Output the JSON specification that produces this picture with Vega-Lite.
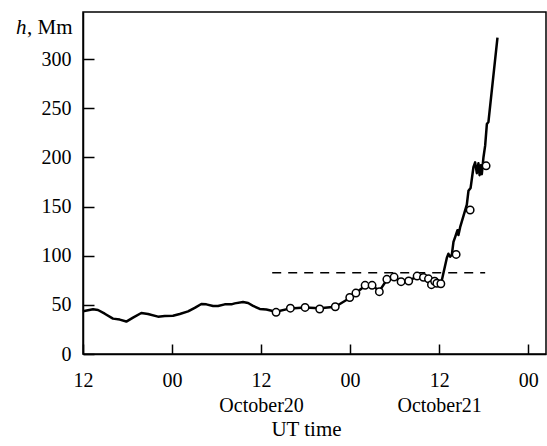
{
  "$schema": "https://vega.github.io/schema/vega-lite/v6.json",
  "width": 463,
  "height": 342,
  "autosize": {"type": "none"},
  "padding": {"left": 83, "top": 12, "right": 1, "bottom": 92},
  "background": "white",
  "config": {
    "view": {"stroke": "black", "strokeWidth": 1.5},
    "axis": {
      "grid": false,
      "domainColor": "black",
      "domainWidth": 1.5,
      "tickColor": "black",
      "tickWidth": 1.5,
      "labelFont": "Liberation Serif",
      "labelFontSize": 20,
      "labelColor": "black",
      "titleFont": "Liberation Serif",
      "titleFontSize": 21,
      "titleFontWeight": "normal",
      "titleColor": "black",
      "labelFlush": false,
      "labelOverlap": false,
      "labelBound": false
    }
  },
  "datasets": {
    "curve": [
      {"t": 0, "h": 43.5}, {"t": 1.35, "h": 45.5}, {"t": 2.02, "h": 44.8}, {"t": 2.93, "h": 41},
      {"t": 4.04, "h": 36}, {"t": 4.95, "h": 35}, {"t": 5.84, "h": 33}, {"t": 6.74, "h": 37},
      {"t": 7.86, "h": 41.7}, {"t": 8.76, "h": 40.7}, {"t": 10.11, "h": 38}, {"t": 11.02, "h": 38.7},
      {"t": 12.13, "h": 39}, {"t": 13.04, "h": 40.7}, {"t": 14.16, "h": 43.4}, {"t": 15.06, "h": 47},
      {"t": 15.95, "h": 50.9}, {"t": 16.62, "h": 50.5}, {"t": 17.53, "h": 48.8}, {"t": 18.2, "h": 48.8},
      {"t": 19.1, "h": 50.5}, {"t": 20.0, "h": 50.5}, {"t": 20.45, "h": 51.5}, {"t": 21.57, "h": 52.9},
      {"t": 22.25, "h": 51.9}, {"t": 22.92, "h": 49}, {"t": 23.82, "h": 45.8}, {"t": 24.71, "h": 45.3},
      {"t": 26.0, "h": 43}, {"t": 27.95, "h": 46.4}, {"t": 29.93, "h": 47.2}, {"t": 31.9, "h": 46.5},
      {"t": 34.0, "h": 48.1}, {"t": 35.95, "h": 57}, {"t": 36.78, "h": 62}, {"t": 38.02, "h": 69.5},
      {"t": 38.96, "h": 70}, {"t": 39.94, "h": 64}, {"t": 40.95, "h": 75.5}, {"t": 41.93, "h": 78},
      {"t": 42.87, "h": 74}, {"t": 43.9, "h": 74.5}, {"t": 45.03, "h": 79}, {"t": 45.88, "h": 78},
      {"t": 46.56, "h": 77}, {"t": 46.96, "h": 72}, {"t": 47.39, "h": 74}, {"t": 47.69, "h": 72},
      {"t": 48.3, "h": 73}, {"t": 49.04, "h": 98}, {"t": 49.25, "h": 102}, {"t": 49.48, "h": 99},
      {"t": 49.71, "h": 101}, {"t": 49.93, "h": 114}, {"t": 50.2, "h": 120}, {"t": 50.47, "h": 126},
      {"t": 50.6, "h": 121}, {"t": 50.83, "h": 129}, {"t": 51.3, "h": 141}, {"t": 51.73, "h": 152},
      {"t": 51.95, "h": 166}, {"t": 52.24, "h": 169}, {"t": 52.62, "h": 190}, {"t": 52.85, "h": 195},
      {"t": 53.08, "h": 184}, {"t": 53.29, "h": 194}, {"t": 53.45, "h": 182}, {"t": 53.62, "h": 192},
      {"t": 53.75, "h": 183}, {"t": 53.97, "h": 200}, {"t": 54.2, "h": 212}, {"t": 54.43, "h": 234},
      {"t": 54.64, "h": 236}, {"t": 55.86, "h": 322}
    ],
    "obs": [
      {"t": 26.02, "h": 42.4}, {"t": 27.95, "h": 46.6}, {"t": 29.93, "h": 47.4}, {"t": 31.9, "h": 45.8},
      {"t": 34.0, "h": 48.1}, {"t": 35.95, "h": 57.5}, {"t": 36.78, "h": 62}, {"t": 38.02, "h": 69.9},
      {"t": 38.96, "h": 69.9}, {"t": 39.94, "h": 63.4}, {"t": 40.95, "h": 76}, {"t": 41.93, "h": 78.3},
      {"t": 42.87, "h": 73.6}, {"t": 43.9, "h": 74.3}, {"t": 45.03, "h": 79.3}, {"t": 45.88, "h": 78},
      {"t": 46.56, "h": 76.5}, {"t": 46.96, "h": 70.5}, {"t": 47.39, "h": 74}, {"t": 47.69, "h": 72},
      {"t": 48.23, "h": 71.5}, {"t": 50.29, "h": 101.3}, {"t": 52.18, "h": 146.5}, {"t": 54.33, "h": 191.5}
    ],
    "ref": [{"t1": 25.5, "t2": 54.2, "h": 82.7}]
  },
  "resolve": {"axis": {"x": "independent", "y": "independent"}},
  "layer": [
    {
      "data": {"name": "ref"},
      "mark": {"type": "rule", "color": "black", "strokeWidth": 1.5, "strokeDash": [9, 7]},
      "encoding": {
        "x": {"field": "t1", "type": "quantitative", "axis": null},
        "x2": {"field": "t2"},
        "y": {"field": "h", "type": "quantitative", "axis": null}
      }
    },
    {
      "data": {"name": "curve"},
      "mark": {"type": "line", "color": "black", "strokeWidth": 2.5, "strokeJoin": "round"},
      "encoding": {
        "x": {
          "field": "t", "type": "quantitative",
          "scale": {"domain": [0, 62.4], "nice": false, "zero": false},
          "axis": {
            "orient": "bottom",
            "values": [0, 12, 24, 36, 48, 60],
            "labelExpr": "datum.value == 24 ? ['12', 'October20'] : datum.value == 48 ? ['12', 'October21'] : (datum.value % 24 == 0 ? '12' : '00')",
            "ticks": false,
            "labelPadding": 16,
            "labelLineHeight": 25,
            "labelBaseline": "top",
            "title": "UT time",
            "titleX": 223,
            "titleY": 81,
            "titleBaseline": "alphabetic",
            "titleAnchor": null
          }
        },
        "y": {
          "field": "h", "type": "quantitative",
          "scale": {"domain": [0, 348], "nice": false},
          "axis": {
            "orient": "left",
            "values": [0, 50, 100, 150, 200, 250, 300],
            "ticks": false,
            "labelPadding": 12,
            "title": ", Mm",
            "titleAngle": 0,
            "titleAlign": "right",
            "titleBaseline": "middle",
            "titleX": -11,
            "titleY": 15
          }
        }
      }
    },
    {
      "data": {"name": "obs"},
      "mark": {"type": "point", "shape": "circle", "filled": true, "fill": "white", "stroke": "black", "strokeWidth": 1.5, "size": 55, "opacity": 1},
      "encoding": {
        "x": {
          "field": "t", "type": "quantitative",
          "axis": {
            "orient": "top",
            "offset": -342,
            "values": [0, 12, 24, 36, 48, 60],
            "labels": false,
            "domain": false,
            "tickSize": 10,
            "title": null
          }
        },
        "y": {
          "field": "h", "type": "quantitative",
          "axis": {
            "orient": "right",
            "offset": -463,
            "values": [0, 50, 100, 150, 200, 250, 300],
            "labels": false,
            "domain": false,
            "tickSize": 11,
            "title": "h",
            "titleFontStyle": "italic",
            "titleAngle": 0,
            "titleAlign": "right",
            "titleBaseline": "middle",
            "titleX": -57,
            "titleY": 15
          }
        }
      }
    }
  ]
}
